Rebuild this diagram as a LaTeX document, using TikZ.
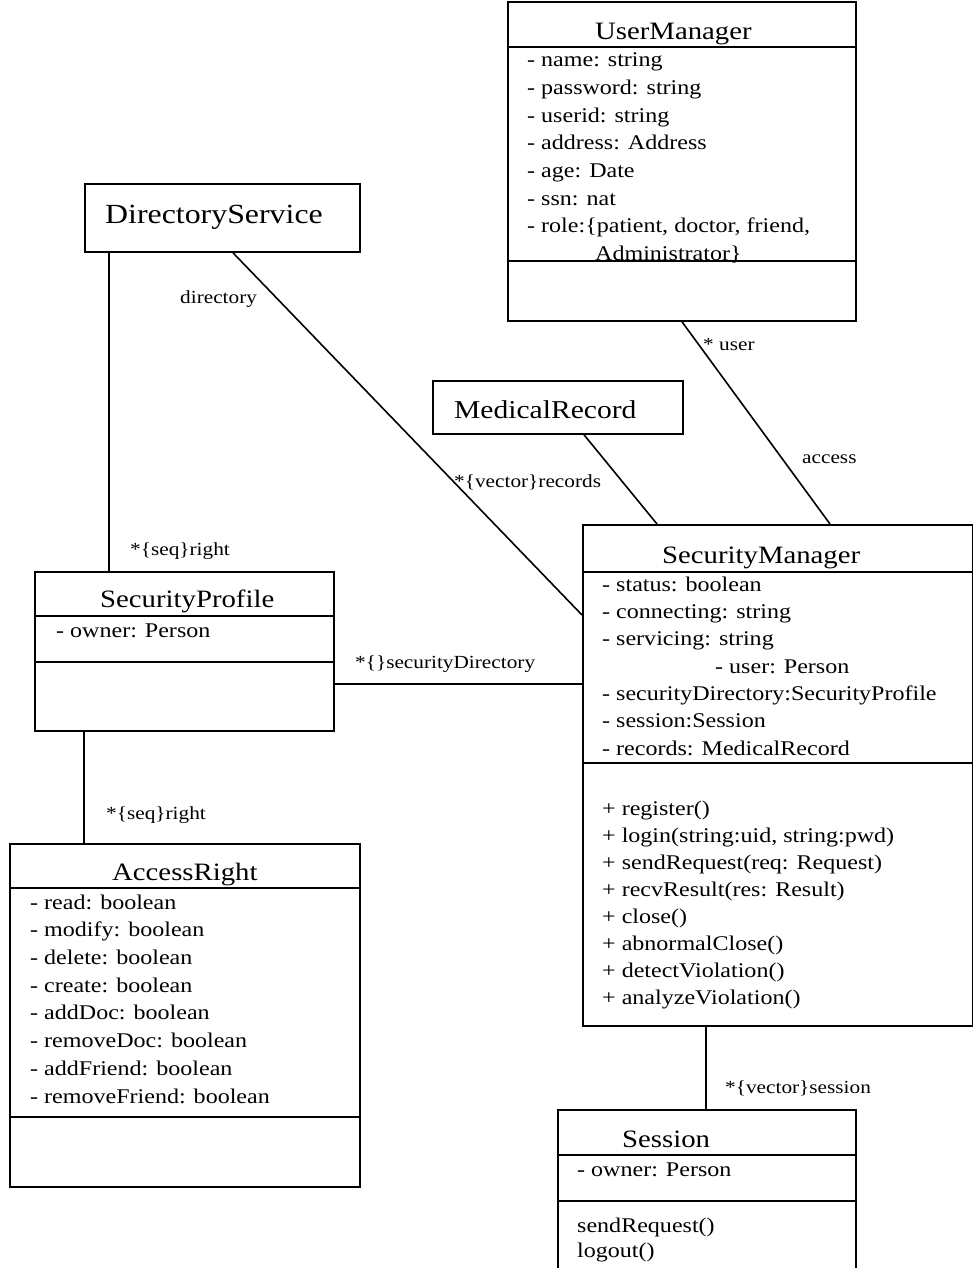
\documentclass[tikz,border=0pt]{standalone}
\usepackage{fontspec}
\setmainfont{Liberation Serif}[FakeStretch=1.15]
\usetikzlibrary{calc}
\begin{document}
\begin{tikzpicture}[x=1pt,y=-1pt,
 cls/.style={draw, anchor=north west, inner sep=0pt, line width=1.8pt},
 div/.style={line width=1.8pt},
 ttl/.style={anchor=base west, inner sep=0pt, font=\fontsize{25}{30}\selectfont},
 att/.style={anchor=base west, inner sep=0pt, font=\fontsize{20.9}{25}\selectfont},
 lbl/.style={anchor=base west, inner sep=0pt, font=\fontsize{18.5}{22}\selectfont},
 conn/.style={line width=1.6pt}]
\useasboundingbox (0,0) rectangle (972,1268);
\fill[white] (0,0) rectangle (972,1268);

% ---------- UserManager ----------
\node[cls, minimum width=348pt, minimum height=318.5pt] (um) at (507,1.5) {};
\draw[div] (um.west |- 0,47) -- (um.east |- 0,47);
\draw[div] (um.west |- 0,261) -- (um.east |- 0,261);
\node[ttl] (umt) at (595,40) {UserManager};
\node[att] (um1) at (527,67) {- name: string};
\node[att] (um2) at (527,94.6) {- password: string};
\node[att] (um3) at (527,122.2) {- userid: string};
\node[att] (um4) at (527,149.8) {- address: Address};
\node[att] (um5) at (527,177.4) {- age: Date};
\node[att] (um6) at (527,205) {- ssn: nat};
\node[att] (um7) at (527,232.6) {- role:\{patient, doctor, friend,};
\node[att] (um8) at (595,260) {Administrator\}};

% ---------- DirectoryService ----------
\node[cls, minimum width=275pt, minimum height=68pt] (ds) at (84,183) {};
\node[ttl, font=\fontsize{27.7}{32}\selectfont] (dst) at (105,223) {DirectoryService};

% ---------- MedicalRecord ----------
\node[cls, minimum width=250pt, minimum height=53pt] (mr) at (432,380) {};
\node[ttl, font=\fontsize{25.7}{30}\selectfont] (mrt) at (454,418) {MedicalRecord};

% ---------- SecurityManager ----------
\node[cls, minimum width=390pt, minimum height=501pt] (sm) at (582,524) {};
\draw[div] (sm.west |- 0,572) -- (sm.east |- 0,572);
\draw[div] (sm.west |- 0,763) -- (sm.east |- 0,763);
\node[ttl] (smt) at (662,563) {SecurityManager};
\node[att] (sa1) at (602,591) {- status: boolean};
\node[att] (sa2) at (602,618.3) {- connecting: string};
\node[att] (sa3) at (602,645.7) {- servicing: string};
\node[att] (sa4) at (715,673) {- user: Person};
\node[att] (sa5) at (602,700.3) {- securityDirectory:SecurityProfile};
\node[att] (sa6) at (602,727.7) {- session:Session};
\node[att] (sa7) at (602,755) {- records: MedicalRecord};
\node[att] (sm1) at (602,815) {+ register()};
\node[att] (sm2) at (602,842) {+ login(string:uid, string:pwd)};
\node[att] (sm3) at (602,869) {+ sendRequest(req: Request)};
\node[att] (sm4) at (602,896) {+ recvResult(res: Result)};
\node[att] (sm5) at (602,923) {+ close()};
\node[att] (sm6) at (602,950) {+ abnormalClose()};
\node[att] (sm7) at (602,977) {+ detectViolation()};
\node[att] (sm8) at (602,1004) {+ analyzeViolation()};

% ---------- SecurityProfile ----------
\node[cls, minimum width=299pt, minimum height=159pt] (sp) at (34,571) {};
\draw[div] (sp.west |- 0,616) -- (sp.east |- 0,616);
\draw[div] (sp.west |- 0,662) -- (sp.east |- 0,662);
\node[ttl] (spt) at (100,607) {SecurityProfile};
\node[att] (sp1) at (56,637) {- owner: Person};

% ---------- AccessRight ----------
\node[cls, minimum width=350pt, minimum height=343pt] (ar) at (9,843) {};
\draw[div] (ar.west |- 0,888) -- (ar.east |- 0,888);
\draw[div] (ar.west |- 0,1117) -- (ar.east |- 0,1117);
\node[ttl] (art) at (112,880) {AccessRight};
\node[att] (ar1) at (30,909) {- read: boolean};
\node[att] (ar2) at (30,936.7) {- modify: boolean};
\node[att] (ar3) at (30,964.4) {- delete: boolean};
\node[att] (ar4) at (30,992.1) {- create: boolean};
\node[att] (ar5) at (30,1019.8) {- addDoc: boolean};
\node[att] (ar6) at (30,1047.5) {- removeDoc: boolean};
\node[att] (ar7) at (30,1075.2) {- addFriend: boolean};
\node[att] (ar8) at (30,1103) {- removeFriend: boolean};

% ---------- Session ----------
\node[cls, minimum width=298pt, minimum height=170pt] (se) at (557,1109) {};
\draw[div] (se.west |- 0,1155) -- (se.east |- 0,1155);
\draw[div] (se.west |- 0,1201) -- (se.east |- 0,1201);
\node[ttl] (set) at (622,1147) {Session};
\node[att] (se1) at (577,1176) {- owner: Person};
\node[att] (se2) at (577,1232) {sendRequest()};
\node[att] (se3) at (577,1257) {logout()};

% ---------- connectors ----------
\draw[conn] ([xshift=25pt]ds.south west) -- ([xshift=75pt]sp.north west);
\draw[conn] ([xshift=149pt]ds.south west) -- ([yshift=-91pt]sm.north west);
\draw[conn] ([xshift=152pt]mr.south west) -- ([xshift=75pt]sm.north west);
\draw[conn] ([xshift=175pt]um.south west) -- ([xshift=248pt]sm.north west);
\draw[conn] ([yshift=-113pt]sp.north east) -- ([yshift=-160pt]sm.north west);
\draw[conn] ([xshift=50pt]sp.south west) -- ([xshift=75pt]ar.north west);
\draw[conn] ([xshift=124pt]sm.south west) -- ([xshift=149pt]se.north west);

% ---------- labels ----------
\node[lbl] (l1) at (180,303) {directory};
\node[lbl] (l2) at (454,487) {*\{vector\}records};
\node[lbl] (l3) at (703,350) {* user};
\node[lbl] (l4) at (802,463) {access};
\node[lbl] (l5) at (130,555) {*\{seq\}right};
\node[lbl] (l6) at (355,668) {*\{\}securityDirectory};
\node[lbl] (l7) at (106,819) {*\{seq\}right};
\node[lbl] (l8) at (725,1093) {*\{vector\}session};
\end{tikzpicture}
\end{document}
